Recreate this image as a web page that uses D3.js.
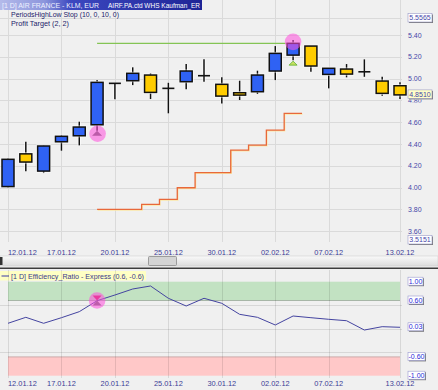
<!DOCTYPE html>
<html><head><meta charset="utf-8">
<script src="https://cdn.jsdelivr.net/npm/d3@7"></script>
<style>html,body{margin:0;padding:0;background:#f0f0f0;}svg{display:block;font-family:"Liberation Sans",Arial,sans-serif;}</style>
</head><body><svg id="c" width="438" height="390"></svg>
<script>
// ---------- DATA ----------
const dates = ["12.01.12","13.01.12","16.01.12","17.01.12","18.01.12","19.01.12","20.01.12","23.01.12","24.01.12","25.01.12","26.01.12","27.01.12","30.01.12","31.01.12","01.02.12","02.02.12","03.02.12","06.02.12","07.02.12","08.02.12","09.02.12","10.02.12","13.02.12"];
const openV  = [4.01,4.31,4.152,4.421,4.476,4.577,4.957,4.981,5.033,4.911,4.972,5.027,4.948,4.871,4.880,5.070,5.216,5.299,5.039,5.088,5.063,4.978,4.935];
const highV  = [4.27,4.42,4.385,4.483,4.605,4.987,4.957,5.104,5.049,4.962,5.134,5.177,5.012,4.981,5.073,5.299,5.354,5.300,5.097,5.134,5.177,5.017,4.966];
const lowV   = [4.00,4.15,4.134,4.339,4.388,4.522,4.810,4.941,4.813,4.682,4.902,4.972,4.773,4.804,4.859,4.987,5.170,5.064,4.911,5.012,5.017,4.843,4.813];
const closeV = [4.26,4.235,4.382,4.471,4.556,4.966,4.957,5.049,4.874,4.911,5.070,5.027,4.840,4.849,5.033,5.232,5.324,5.116,5.095,5.042,5.063,4.865,4.851];
const stopDates = ["19.01.12","20.01.12","23.01.12","24.01.12","25.01.12","26.01.12","27.01.12","30.01.12","31.01.12","01.02.12","02.02.12","03.02.12"];
const stopLevels = [3.80,3.80,3.80,3.847,3.893,3.999,4.137,4.137,4.345,4.391,4.528,4.682];
const targetDates = ["19.01.12","03.02.12"];
const targetLevel = 5.324;
const entryDate = "19.01.12", exitDate = "03.02.12";
const erValues = [0.115,0.242,0.115,0.234,0.362,0.596,0.717,0.845,0.909,0.647,0.483,0.647,0.540,0.306,0.242,0.079,0.270,0.234,0.200,0.170,-0.028,0.043,0.03];
const priceTicks = [5.40,5.20,5.00,4.80,4.60,4.40,4.20,4.00,3.80,3.60];
const priceRange = [3.5151,5.5565];
const lastPrice = 4.8510;
const dateTicks = ["12.01.12","17.01.12","20.01.12","25.01.12","30.01.12","02.02.12","07.02.12","13.02.12"];
const erGridTicks = [0.5,0,-0.5];
const erBoxTicks = [1.00,0.60,0.03,-0.60,-1.00];
const erBands = [0.6,-0.6];

// ---------- SCALES ----------
const svg = d3.select("#c");
const x = d3.scalePoint().domain(dates).range([8,400]);
const step = x.step();
const y = d3.scaleLinear().domain(priceRange).range([240.5,18]);
const ye = d3.scaleLinear().domain([-1,1]).range([375.7,281.7]);

svg.append("rect").attr("width",438).attr("height",390).attr("fill","#f0f0f0");

const grid = "#dadada";
// ---------- TOP GRID ----------
const gTop = svg.append("g");
gTop.selectAll("line.h").data(priceTicks.concat([priceRange[1]])).join("line")
  .attr("x1",0).attr("x2",402).attr("y1",d=>Math.round(y(d))+0.5).attr("y2",d=>Math.round(y(d))+0.5)
  .attr("stroke",grid);
gTop.selectAll("line.v").data(dateTicks).join("line")
  .attr("x1",d=>Math.round(x(d))+0.5).attr("x2",d=>Math.round(x(d))+0.5).attr("y1",0).attr("y2",242)
  .attr("stroke",grid);

// ---------- STOP LINE ----------
const stopPts = [];
stopDates.forEach((d,i)=>{
  if(i===0) stopPts.push([x(d), y(stopLevels[i])]);
  const xe = x(d)+step/2;
  stopPts.push([xe, y(stopLevels[i])]);
  if(i<stopDates.length-1) stopPts.push([xe, y(stopLevels[i+1])]);
});
const ln = d3.line();
svg.append("path").attr("d",ln(stopPts.map(p=>[p[0]+0.6,p[1]+0.8]))).attr("fill","none").attr("stroke","#fbe7a8").attr("stroke-width",1.2);
svg.append("path").attr("d",ln(stopPts)).attr("fill","none").attr("stroke","#e8683a").attr("stroke-width",1.3);

// ---------- TARGET LINE ----------
svg.append("line").attr("x1",x(targetDates[0])).attr("x2",x(targetDates[1]))
  .attr("y1",y(targetLevel)).attr("y2",y(targetLevel)).attr("stroke","#84c454").attr("stroke-width",1.3);

// ---------- CANDLES ----------
const bw = 12;
const cg = svg.append("g").selectAll("g").data(dates).join("g");
cg.append("line").attr("x1",d=>x(d)).attr("x2",d=>x(d))
  .attr("y1",(d,i)=>y(highV[i])).attr("y2",(d,i)=>y(lowV[i]))
  .attr("stroke","#fff").attr("stroke-width",3.2).attr("stroke-opacity",0.7);
cg.append("line").attr("x1",d=>x(d)).attr("x2",d=>x(d))
  .attr("y1",(d,i)=>y(highV[i])).attr("y2",(d,i)=>y(lowV[i]))
  .attr("stroke","#111").attr("stroke-width",1.5);
cg.each(function(d,i){
  const g = d3.select(this);
  const o = openV[i], c = closeV[i];
  if(o===c){
    g.append("line").attr("x1",x(d)-bw/2).attr("x2",x(d)+bw/2).attr("y1",y(o)).attr("y2",y(o))
      .attr("stroke","#111").attr("stroke-width",1.6);
  } else {
    const top = y(Math.max(o,c)), bot = y(Math.min(o,c));
    g.append("rect").attr("x",x(d)-bw/2-1).attr("y",top-1).attr("width",bw+2).attr("height",bot-top+2)
      .attr("fill","none").attr("stroke","#fff").attr("stroke-opacity",0.7).attr("stroke-width",1);
    g.append("rect").attr("x",x(d)-bw/2).attr("y",top).attr("width",bw).attr("height",Math.max(bot-top,1.5))
      .attr("fill", c>o ? "#2f62f4" : "#ffcc00").attr("stroke","#111").attr("stroke-width",1.5);
  }
});

// ---------- TRADE MARKERS ----------
const ei = dates.indexOf(entryDate), xi = dates.indexOf(exitDate);
const ex = x(entryDate), ey = y(lowV[ei]);
svg.append("path").attr("d",`M${ex},${ey} L${ex+5},${ey+5} L${ex-5},${ey+5} Z`).attr("fill","#6a6a6a");
svg.append("circle").attr("cx",ex+0.5).attr("cy",ey+3).attr("r",8.3).attr("fill","#ff4fdc").attr("fill-opacity",0.55);
const tx = x(exitDate), tyl = y(lowV[xi]);
svg.append("path").attr("d",`M${tx},${tyl+1} L${tx+4},${tyl+5} L${tx-4},${tyl+5} Z`).attr("fill","#c8e060").attr("stroke","#5ab030").attr("stroke-width",0.8);
svg.append("circle").attr("cx",tx).attr("cy",y(targetLevel)-1.5).attr("r",8.3).attr("fill","#ff4fdc").attr("fill-opacity",0.55);

// ---------- TOP HEADER ----------
const defs = svg.append("defs");
const grad = defs.append("linearGradient").attr("id","hdr");
grad.append("stop").attr("offset","0").attr("stop-color","#b4baea");
grad.append("stop").attr("offset","0.22").attr("stop-color","#8c96dc");
grad.append("stop").attr("offset","0.35").attr("stop-color","#3c48c0");
grad.append("stop").attr("offset","1").attr("stop-color","#1e2496");
svg.append("rect").attr("x",0).attr("y",0).attr("width",202).attr("height",10).attr("fill","url(#hdr)");
svg.append("text").attr("x",2).attr("y",8).attr("font-size",7.2).attr("fill","#eef0ff")
  .attr("textLength",97).attr("lengthAdjust","spacingAndGlyphs").text("[1 D] AIR FRANCE - KLM, EUR");
svg.append("text").attr("x",108).attr("y",8).attr("font-size",7.2).attr("fill","#ffffff")
  .attr("textLength",92).attr("lengthAdjust","spacingAndGlyphs").text("AIRF.PA.ctd WHS Kaufman_ER");
svg.append("text").attr("x",11).attr("y",17).attr("font-size",7.4).attr("fill","#1c1c6a")
  .attr("textLength",108).attr("lengthAdjust","spacingAndGlyphs").text("PeriodsHighLow Stop  (10, 0, 10, 0)");
svg.append("text").attr("x",11).attr("y",26).attr("font-size",7.4).attr("fill","#1c1c6a")
  .attr("textLength",58).attr("lengthAdjust","spacingAndGlyphs").text("Profit Target  (2, 2)");

// ---------- PRICE AXIS ----------
const axCol = "#4646a8";
svg.selectAll("text.pt").data(priceTicks.filter(v=>Math.abs(y(v)-y(lastPrice))>6)).join("text").attr("class","pt")
  .attr("x",408).attr("y",d=>y(d)+2.5).attr("font-size",7).attr("fill",axCol).text(d=>d.toFixed(2));
function box(v, yy, fill, col, w){
  const g = svg.append("g");
  g.append("rect").attr("x",409).attr("y",yy-4).attr("width",w).attr("height",8.5).attr("fill","#7a7a7a");
  g.append("rect").attr("x",408).attr("y",yy-5).attr("width",w).attr("height",8.5).attr("fill",fill).attr("stroke","#9a9ac8").attr("stroke-width",0.6);
  g.append("text").attr("x",408+w/2).attr("y",yy+1.8).attr("text-anchor","middle").attr("font-size",7).attr("fill",col).text(v);
}
// partially hidden 4.80 tick peeking below the last-price box
svg.append("text").attr("x",408).attr("y",y(4.80)+2.5).attr("font-size",7).attr("fill",axCol)
  .attr("clip-path","url(#clip480)").text("4.80");
defs.append("clipPath").attr("id","clip480").append("rect").attr("x",405).attr("y",y(lastPrice)+4.6).attr("width",30).attr("height",3);
box(priceRange[1].toFixed(4), y(priceRange[1])+0.5, "#ffffff", axCol, 24);
box(lastPrice.toFixed(4), y(lastPrice), "#ffffc8", axCol, 24);
box(priceRange[0].toFixed(4), y(priceRange[0]), "#ffffff", axCol, 24);

// ---------- DATE LABELS ----------
function dateLabels(yy){
  svg.selectAll(null).data(dateTicks).join("text")
    .attr("x",d=>x(d)).attr("y",yy)
    .attr("text-anchor",(d,i)=> i===0 ? "start" : "middle")
    .attr("font-size",7.4).attr("fill","#3c3c96").text(d=>d);
}
dateLabels(254.5);

// ---------- SCROLLBAR ----------
const sg = defs.append("linearGradient").attr("id","sb").attr("x1",0).attr("x2",0).attr("y1",0).attr("y2",1);
sg.append("stop").attr("offset","0").attr("stop-color","#fafafa");
sg.append("stop").attr("offset","1").attr("stop-color","#dcdcdc");
svg.append("rect").attr("x",0).attr("y",256).attr("width",438).attr("height",10).attr("fill","url(#sb)").attr("stroke","#c8c8c8").attr("stroke-width",0.5);
svg.append("rect").attr("x",0).attr("y",257).attr("width",2.5).attr("height",8).attr("fill","#333");
svg.append("rect").attr("x",148.5).attr("y",256.5).attr("width",28).attr("height",9).attr("fill","#d4d4d4").attr("stroke","#8a8a8a").attr("stroke-width",0.8).attr("rx",1);
svg.append("line").attr("x1",0).attr("x2",438).attr("y1",268.3).attr("y2",268.3).attr("stroke","#3c3c3c").attr("stroke-width",1.6);

// ---------- LOWER PANEL ----------
svg.append("rect").attr("x",0).attr("y",271).attr("width",146).attr("height",9.5).attr("fill","#ffffc4");
svg.append("line").attr("x1",1.5).attr("x2",9).attr("y1",276).attr("y2",276).attr("stroke","#3a3aa8").attr("stroke-width",1);
svg.append("text").attr("x",11).attr("y",278.5).attr("font-size",7.2).attr("fill","#3a3a8a")
  .attr("textLength",133).attr("lengthAdjust","spacingAndGlyphs").text("[1 D] Efficiency_Ratio - Express  (0.6, -0.6)");

const x0 = x(dates[0]), x1 = x(dates[dates.length-1]);
svg.append("rect").attr("x",x0).attr("y",ye(1)).attr("width",x1-x0).attr("height",ye(erBands[0])-ye(1))
  .attr("fill","#c2e2c2");
svg.append("line").attr("x1",x0).attr("x2",x1).attr("y1",ye(erBands[0])).attr("y2",ye(erBands[0])).attr("stroke","#9aa89a").attr("stroke-width",0.8);
svg.append("rect").attr("x",x0).attr("y",ye(erBands[1])).attr("width",x1-x0).attr("height",ye(-1)-ye(erBands[1]))
  .attr("fill","#ffc8c8");
svg.append("line").attr("x1",x0).attr("x2",x1).attr("y1",ye(erBands[1])).attr("y2",ye(erBands[1])).attr("stroke","#c0a0a0").attr("stroke-width",0.8);

svg.selectAll(null).data(erGridTicks).join("line")
  .attr("x1",0).attr("x2",402).attr("y1",d=>Math.round(ye(d))+0.5).attr("y2",d=>Math.round(ye(d))+0.5)
  .attr("stroke","rgba(0,0,0,0.1)");
svg.selectAll(null).data(dateTicks).join("line")
  .attr("x1",d=>Math.round(x(d))+0.5).attr("x2",d=>Math.round(x(d))+0.5).attr("y1",270).attr("y2",378)
  .attr("stroke","rgba(0,0,0,0.1)");

svg.append("path").datum(erValues)
  .attr("d",d3.line().x((d,i)=>x(dates[i])).y(d=>ye(d)))
  .attr("fill","none").attr("stroke","#4444a0").attr("stroke-width",1);

// signal marker
const sx = x(entryDate), sy = ye(erBands[0]);
svg.append("path").attr("d",`M${sx},${sy} L${sx+4.5},${sy-5} L${sx-4.5},${sy-5} Z`).attr("fill","#d0205a");
svg.append("path").attr("d",`M${sx},${sy} L${sx+4.5},${sy+5} L${sx-4.5},${sy+5} Z`).attr("fill","#707070");
svg.append("circle").attr("cx",sx).attr("cy",sy).attr("r",8.3).attr("fill","#ff4fdc").attr("fill-opacity",0.55);

// lower axis labels (boxed)
erBoxTicks.forEach(v=>{
  const g = svg.append("g");
  const yy = ye(v), w = v<0 ? 17 : 15;
  g.append("rect").attr("x",409).attr("y",yy-3.5).attr("width",w).attr("height",8).attr("fill","#7a7a7a");
  g.append("rect").attr("x",408).attr("y",yy-4.5).attr("width",w).attr("height",8).attr("fill","#ffffff").attr("stroke","#9a9ad0").attr("stroke-width",0.6);
  g.append("text").attr("x",408+w/2).attr("y",yy+2).attr("text-anchor","middle").attr("font-size",7).attr("fill","#2a2ad8").text(v.toFixed(2));
});
dateLabels(385.5);
</script></body></html>
